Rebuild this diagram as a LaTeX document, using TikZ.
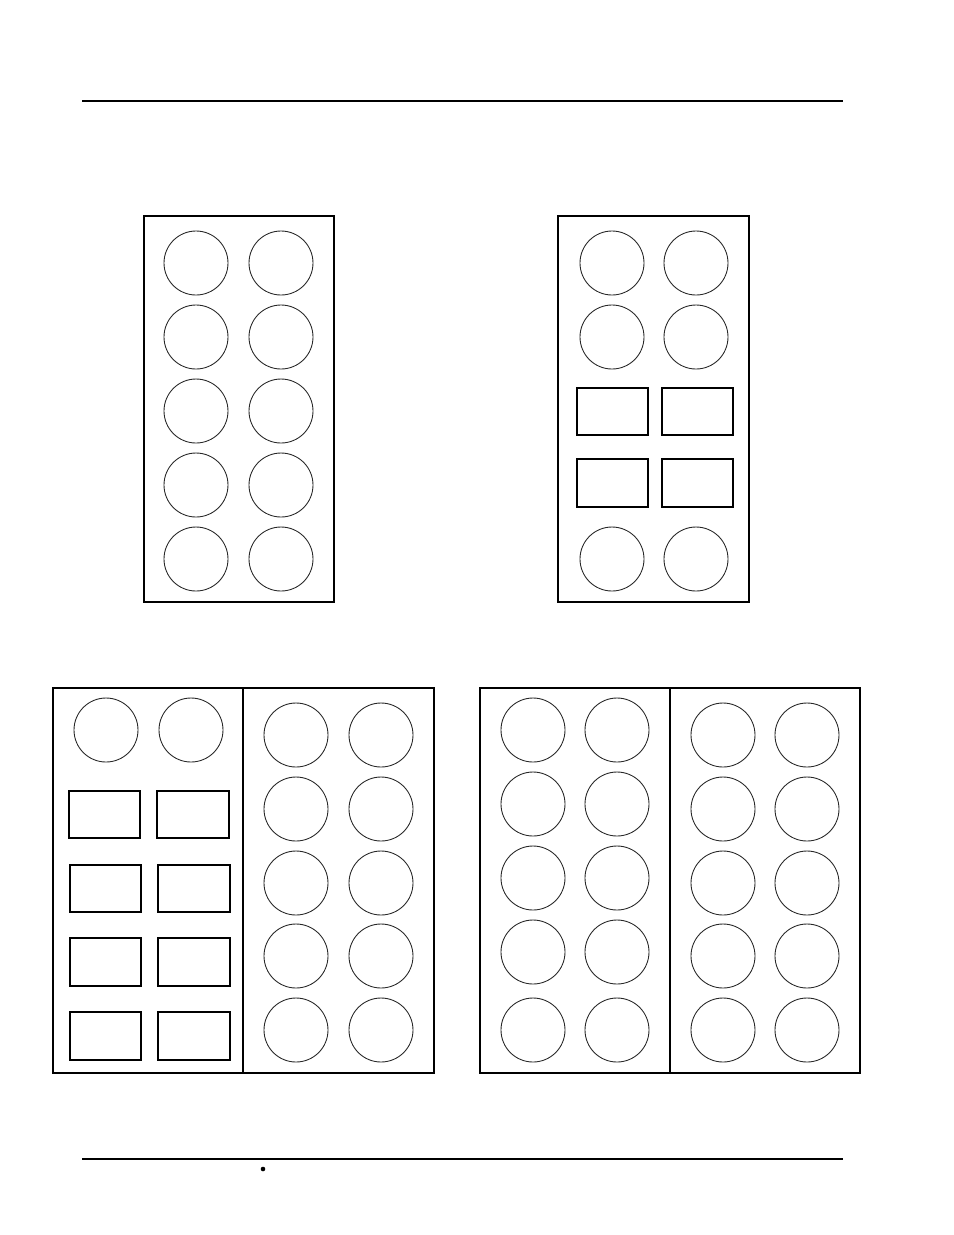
\documentclass[tikz,border=0pt]{standalone}
\usepackage{tikz}
\usepackage{amsmath}
\usepackage{xcolor}

\begin{document}
\begin{tikzpicture}[x=0.02cm, y=-0.02cm, % one unit = one pixel of the page
        cell/.style={line width=0.5pt, black!85},
        chip/.style={line width=0.65pt},
        tray/.style={line width=0.65pt}]
        \useasboundingbox (0,0) rectangle (954,1235);

        % Page rules
        \draw[line width=0.6pt] (82,101) -- (843,101);
        \draw[line width=1.2pt] (82,1159) -- (843,1159);
        \fill (263,1169) circle (2.3);

        % Top left tray
        \draw[tray] (144,216) rectangle (334,602);
        \draw[cell] (196,263) circle (32);  \draw[cell] (281,263) circle (32);
        \draw[cell] (196,337) circle (32);  \draw[cell] (281,337) circle (32);
        \draw[cell] (196,411) circle (32);  \draw[cell] (281,411) circle (32);
        \draw[cell] (196,485) circle (32);  \draw[cell] (281,485) circle (32);
        \draw[cell] (196,559) circle (32);  \draw[cell] (281,559) circle (32);

        % Top right tray
        \draw[tray] (558,216) rectangle (749,602);
        \draw[cell] (612,263) circle (32);  \draw[cell] (696,263) circle (32);
        \draw[cell] (612,337) circle (32);  \draw[cell] (696,337) circle (32);
        \draw[chip] (577,388) rectangle (648,435);  \draw[chip] (662,388) rectangle (733,435);
        \draw[chip] (577,459) rectangle (648,507);  \draw[chip] (662,459) rectangle (733,507);
        \draw[cell] (612,559) circle (32);  \draw[cell] (696,559) circle (32);

        % Bottom left tray
        \draw[tray] (53,688) rectangle (434,1073);
        \draw[tray] (243,688) -- (243,1073);
        \draw[cell] (106,730) circle (32);  \draw[cell] (191,730) circle (32);
        \draw[chip] (69,791) rectangle (140,838);   \draw[chip] (157,791) rectangle (229,838);
        \draw[chip] (70,865) rectangle (141,912);   \draw[chip] (158,865) rectangle (230,912);
        \draw[chip] (70,938) rectangle (141,986);   \draw[chip] (158,938) rectangle (230,986);
        \draw[chip] (70,1012) rectangle (141,1060); \draw[chip] (158,1012) rectangle (230,1060);
        \draw[cell] (296,735) circle (32);  \draw[cell] (381,735) circle (32);
        \draw[cell] (296,809) circle (32);  \draw[cell] (381,809) circle (32);
        \draw[cell] (296,883) circle (32);  \draw[cell] (381,883) circle (32);
        \draw[cell] (296,956) circle (32);  \draw[cell] (381,956) circle (32);
        \draw[cell] (296,1030) circle (32); \draw[cell] (381,1030) circle (32);

        % Bottom right tray
        \draw[tray] (480,688) rectangle (860,1073);
        \draw[tray] (670,688) -- (670,1073);
        \draw[cell] (533,730) circle (32);  \draw[cell] (617,730) circle (32);
        \draw[cell] (533,804) circle (32);  \draw[cell] (617,804) circle (32);
        \draw[cell] (533,878) circle (32);  \draw[cell] (617,878) circle (32);
        \draw[cell] (533,952) circle (32);  \draw[cell] (617,952) circle (32);
        \draw[cell] (533,1030) circle (32); \draw[cell] (617,1030) circle (32);
        \draw[cell] (723,735) circle (32);  \draw[cell] (807,735) circle (32);
        \draw[cell] (723,809) circle (32);  \draw[cell] (807,809) circle (32);
        \draw[cell] (723,883) circle (32);  \draw[cell] (807,883) circle (32);
        \draw[cell] (723,956) circle (32);  \draw[cell] (807,956) circle (32);
        \draw[cell] (723,1030) circle (32); \draw[cell] (807,1030) circle (32);
    \end{tikzpicture}
\end{document}
